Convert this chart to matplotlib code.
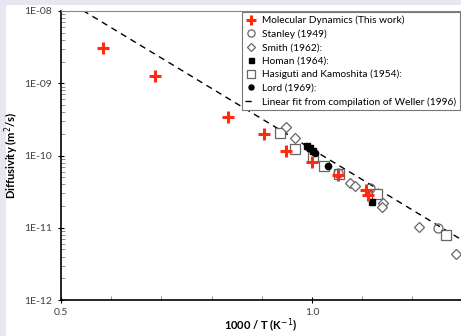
import matplotlib
matplotlib.use("Agg")
import matplotlib.pyplot as plt
import matplotlib.ticker as mticker
from matplotlib.patches import Rectangle
import numpy as np

# 1000/T (1/K) and diffusivity (m^2/s)
md_x = [0.584, 0.687, 0.833, 0.905, 0.948, 1.000, 1.052, 1.108, 1.112]
md_d = [3.1e-9, 1.25e-9, 3.4e-10, 2.0e-10, 1.15e-10, 8.2e-11, 5.4e-11, 3.3e-11, 2.85e-11]

stanley_x = [1.052, 1.116, 1.251]
stanley_d = [5.7e-11, 3.5e-11, 1.0e-11]

smith_x = [0.948, 0.966, 1.076, 1.086, 1.141, 1.139, 1.213, 1.287]
smith_d = [2.45e-10, 1.75e-10, 4.2e-11, 3.8e-11, 2.2e-11, 1.95e-11, 1.03e-11, 4.4e-12]

homan_x = [0.990, 0.996, 1.002, 1.120]
homan_d = [1.35e-10, 1.25e-10, 1.15e-10, 2.3e-11]

hasiguti_x = [0.936, 0.966, 1.002, 1.024, 1.054, 1.130, 1.267]
hasiguti_d = [2.05e-10, 1.23e-10, 9.4e-11, 7.2e-11, 5.6e-11, 2.9e-11, 7.9e-12]

lord_x = [0.993, 1.006, 1.032]
lord_d = [1.3e-10, 1.1e-10, 7.1e-11]

weller_x = [0.5, 1.3]
weller_d = [1.55e-8, 6.7e-12]

ytick_vals = [1e-12, 1e-11, 1e-10, 1e-9, 1e-8]
ytick_labels = ["1E-12", "1E-11", "1E-10", "1E-09", "1E-08"]
xtick_vals = [0.5, 1.0]
xtick_labels = ["0.5", "1.0"]


def main():
    plt.rcParams["font.family"] = ["Lato", "DejaVu Sans"]
    W, H = 461, 336
    fig = plt.figure(figsize=(W / 100, H / 100), dpi=100, facecolor="#e7e7f1")
    fig.add_artist(Rectangle((6 / W, 0), 1, 1 - 5 / H, transform=fig.transFigure,
                             facecolor="white", edgecolor="none", zorder=-10))

    ax = fig.add_axes([61 / W, 36 / H, 400 / W, 289 / H])
    ax.set_facecolor("white")

    ax.plot(weller_x, weller_d, color="black", lw=1.0, ls=(0, (4.5, 3.5)),
            label="Linear fit from compilation of Weller (1996)", zorder=2)

    gray = "#666666"
    ax.plot(hasiguti_x, hasiguti_d, ls="none", marker="s", ms=6.5, mfc="white", mec=gray,
            mew=0.9, label="Hasiguti and Kamoshita (1954):", zorder=3)
    ax.plot(smith_x, smith_d, ls="none", marker="D", ms=4.6, mfc="white", mec=gray,
            mew=0.9, label="Smith (1962):", zorder=3)
    ax.plot(stanley_x, stanley_d, ls="none", marker="o", ms=6.5, mfc="none", mec=gray,
            mew=0.9, label="Stanley (1949)", zorder=4)
    ax.plot(homan_x, homan_d, ls="none", marker="s", ms=4.5, mfc="black", mec="black",
            label="Homan (1964):", zorder=4)
    ax.plot(lord_x, lord_d, ls="none", marker="o", ms=4.5, mfc="black", mec="black",
            label="Lord (1969):", zorder=4)
    ax.plot(md_x, md_d, ls="none", marker="+", ms=9, mec="#ff2a10", mew=2.2,
            label="Molecular Dynamics (This work)", zorder=5)

    ax.set_yscale("log")
    ax.set_ylim(1e-12, 1e-8)
    ax.set_xlim(0.5, 1.297)

    ax.yaxis.set_major_locator(mticker.FixedLocator(ytick_vals))
    ax.yaxis.set_major_formatter(mticker.FixedFormatter(ytick_labels))
    ax.yaxis.set_minor_locator(mticker.LogLocator(base=10, subs=np.arange(2, 10)))
    ax.yaxis.set_minor_formatter(mticker.NullFormatter())
    ax.set_xticks(xtick_vals, xtick_labels)
    ax.xaxis.set_minor_locator(mticker.MultipleLocator(0.1))

    ax.tick_params(which="major", direction="inout", length=5, width=0.8,
                   labelsize=7.5, labelcolor="#404040", pad=4)
    ax.tick_params(which="minor", direction="in", length=3, width=0.6, color="#808080")
    ax.tick_params(axis="x", which="major", pad=3)

    for s in ["left", "bottom"]:
        ax.spines[s].set_color("black")
        ax.spines[s].set_linewidth(1.2)
    ax.spines["top"].set_color("#888888")
    ax.spines["right"].set_visible(False)

    ax.set_xlabel("1000 / T (K$^{-1}$)", fontsize=8, fontweight="bold", labelpad=0)
    ax.set_ylabel("Diffusivity (m$^2$/s)", fontsize=8, fontweight="bold", labelpad=2)

    handles, labels = ax.get_legend_handles_labels()
    order = ["Molecular Dynamics (This work)", "Stanley (1949)", "Smith (1962):",
             "Homan (1964):", "Hasiguti and Kamoshita (1954):", "Lord (1969):",
             "Linear fit from compilation of Weller (1996)"]
    hmap = dict(zip(labels, handles))
    leg = ax.legend([hmap[k] for k in order], order, loc="upper right",
                    bbox_to_anchor=(460 / W, 1 - 12 / H), bbox_transform=fig.transFigure,
                    borderaxespad=0, fontsize=7.3, frameon=True, fancybox=False,
                    edgecolor="#777777", framealpha=1, handlelength=1.1,
                    handletextpad=0.6, labelspacing=0.42, borderpad=0.35,
                    markerscale=0.8)
    leg.get_frame().set_linewidth(0.8)
    leg.set_zorder(6)

    fig.savefig("out.png", dpi=100, facecolor=fig.get_facecolor())


if __name__ == "__main__":
    main()
